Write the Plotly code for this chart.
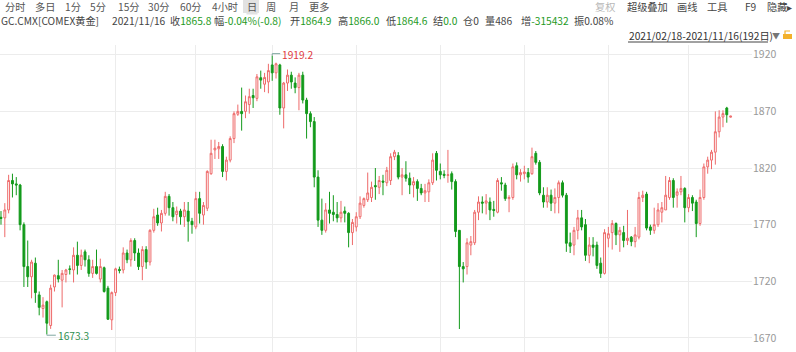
import plotly.graph_objects as go

# ---- data: COMEX gold daily candles, 2021/02/18 - 2021/11/16 (192 trading days) ----
opens = [1776.5,1776,1783,1809,1806,1805,1770,1733,1724,1736,
         1708,1696,1702,1681,1715,1725,1721,1726,1731,1730,
         1743,1734,1746,1739,1727,1733,1722,1732,1714,1686,
         1710,1730.5,1730,1745,1739,1756,1745,1733,1748,1737,
         1765,1778.5,1771.5,1780,1795,1785,1779,1782,1777,1782,
         1773,1768,1793,1778.5,1784.5,1815,1836,1837,1839,1817,
         1827,1846,1867.5,1870,1870,1876,1884,1881.5,1899.7,1894,
         1896,1911,1904,1911,1873,1895,1902,1895,1891,1902,
         1880,1868,1861,1812,1774,1765,1783,1781,1779,1776,
         1782,1780,1763,1768,1777,1787,1792,1794,1804.5,1803,
         1808.5,1807,1809,1830,1831,1812,1814,1811,1805,1808,
         1802,1798,1799,1807,1833,1817,1814.5,1813.5,1815,1808,
         1765,1733,1733,1752,1754,1781,1790,1789,1790,1783.5,
         1781,1807,1805,1793,1794,1822,1814,1815,1816,1815,
         1833,1825,1796,1790,1796,1789,1794,1807,1796,1754,
         1752,1765,1776,1770,1743,1752,1752,1736,1727,1758,
         1763,1771,1761,1763,1756,1759,1755,1759,1794,1797,
         1768,1765,1770,1781,1783,1794,1809,1796,1799,1802,
         1785,1794,1790,1771,1794,1821,1827,1834,1852,1865,
         1873,1864.9]
highs = [1782,1789,1814,1815,1812,1806,1772,1756,1739,1741,
         1711,1706,1703,1717,1726,1739,1730,1731,1734,1750,
         1755,1748,1748,1743,1739,1748,1740,1733,1716,1711,
         1732,1733,1750,1748,1758,1758,1749,1751,1751,1766,
         1784,1785,1783,1799,1797,1790,1786,1784,1790,1790,
         1776,1799,1799,1790,1818,1845,1845,1843,1841,1830,
         1848,1870,1876,1891,1884,1890,1890,1903,1906,1904,
         1912,1919.2,1913,1912,1896,1907,1905,1900,1904,1905,
         1882,1870,1865,1818,1793,1789,1799,1796,1790,1791,
         1786,1781,1775,1781,1795,1794,1816,1808,1820,1813,
         1814,1821,1833,1836,1834,1820,1826,1816,1812,1810,
         1806,1806,1810,1833,1835,1824,1818,1836,1817,1810,
         1762,1737,1758,1760,1783,1795,1795,1797,1794,1791,
         1811,1812,1807,1796,1824,1825,1819,1822,1820,1838,
         1835,1827,1803,1803,1801,1802,1809,1809,1798,1763,
         1768,1783,1783,1775,1759,1759,1755,1741,1766,1768,
         1774,1772,1768,1769,1783,1760,1768,1799,1800,1799,
         1770,1785,1789,1790,1813,1812,1811,1802,1813,1803,
         1797,1796,1792,1801,1824,1830,1836,1870,1871,1871,
         1874,1866.0]
lows = [1770,1759,1780,1794,1796,1765,1715,1715,1705,1701,
        1690,1688,1673.3,1678,1711,1719,1697,1719,1726,1719,
        1726,1730,1733,1724,1723,1726,1719,1710,1686,1677,
        1707,1727,1727,1736,1733,1738,1730,1721,1731,1734,
        1763,1769,1764,1778,1778,1773,1771,1770,1768,1755,
        1762,1766,1771,1770,1782,1814,1828,1828,1812,1809,
        1825,1842,1866,1853,1864,1868,1873,1879,1890,1887,
        1886,1897,1899,1867,1855,1888,1890,1886,1871,1877,
        1846,1856,1803,1768,1761,1763,1771,1773,1772,1772,
        1772,1750,1752,1764,1775,1785,1790,1790,1792,1797,
        1796,1804,1805,1827,1810,1796,1808,1797,1794,1791,
        1796,1790,1790,1805,1809,1810,1811,1807,1801,1759,
        1677.9,1719,1726,1743,1752,1774,1780,1779,1774,1777,
        1780,1800,1791,1781,1792,1810,1808,1810,1807,1814,
        1823,1796,1785,1785,1782,1780,1780,1794,1746,1745,
        1743,1757,1765,1738,1736,1742,1731,1723,1726,1750,
        1748,1752,1746,1750,1752,1751,1750,1757,1790,1765,
        1761,1762,1768,1772,1783,1792,1785,1785,1796,1772,
        1781,1782,1759,1769,1792,1815,1819,1823,1847,1856,
        1860,1864.6]
closes = [1775.5,1783,1809,1806,1805,1770,1733,1724,1737,1710,
          1697,1699,1683,1714,1725.5,1722,1727,1730,1730.5,1743,
          1734,1743,1739,1727,1733,1727,1733,1711,1686.5,1710,
          1731,1729.5,1745,1739,1756,1745,1733,1748,1737,1765,
          1777,1771.5,1780,1795,1785,1777,1782,1777,1783,1773,
          1770,1793,1780,1787,1817,1833,1837.5,1839,1817,1827,
          1846,1868,1870,1868,1878.5,1883,1882,1900.5,1897.6,1900,
          1906,1904,1912,1873,1895,1902,1896,1891,1902,1880,
          1868,1861,1812,1774,1765,1783,1780,1779,1776,1781,
          1780,1763,1772,1777,1789,1793,1798,1803,1803.5,1809,
          1807.5,1818,1830,1834,1812,1814,1811,1805,1808,1802,
          1798,1800,1807,1827,1818,1814,1813.5,1814,1808,1764,
          1733,1731,1754,1755,1781,1790,1789,1791,1783,1782.5,
          1809,1806,1793,1794,1821,1814,1816,1816.5,1812,1830,
          1825,1798,1790,1796,1789,1794,1807,1796,1753.6,1751,
          1765,1776,1768,1743,1752,1750,1734,1727,1763,1762,
          1771,1761,1765,1756,1758,1755,1761,1794,1796,1767,
          1765,1770,1783,1785,1796,1809,1794,1799,1802,1785,
          1794,1789,1771,1794,1821,1827,1834,1852,1865,1868,
          1867,1865.8]
day_index = list(range(len(opens)))
month_start_index = [30, 51, 71, 93, 115, 137, 159, 180]   # Apr..Nov first trading day
price_ticks = [1670, 1720, 1770, 1820, 1870, 1920]

RED = "#ee6a6a"
GREEN = "#139a1b"

fig = go.Figure(go.Candlestick(
    x=day_index, open=opens, high=highs, low=lows, close=closes,
    increasing=dict(line=dict(color=RED, width=1), fillcolor="#ffffff"),
    decreasing=dict(line=dict(color=GREEN, width=1), fillcolor=GREEN),
    whiskerwidth=0, hoverinfo="skip", showlegend=False))

W, H = 796, 352
ML, MR, MT, MB = 0, 44, 45, 0
PW, PH = W - ML - MR, H - MT - MB

def px(x):
    return (x - ML) / PW

def py(y):
    return (H - MB - y) / PH

FONT = "Noto Sans CJK SC, Microsoft YaHei, sans-serif"
FS = 10.2
ann = []

def text(x, y, s, color="#444", size=FS, anchor="left", bg=None):
    d = dict(xref="paper", yref="paper", x=px(x), y=py(y), text=s,
             showarrow=False, xanchor=anchor, yanchor="middle",
             borderpad=0, captureevents=False,
             font=dict(family=FONT, size=size, color=color))
    if bg:
        d["bgcolor"] = bg
    ann.append(d)

# row 1: period tabs and tools
tabs = [(4, "分时"), (34, "多日"), (64, "1分"), (89, "5分"), (117, "15分"),
        (147, "30分"), (179, "60分"), (211, "4小时"), (246, "日"), (265, "周"),
        (288, "月"), (308, "更多")]
tools = [(594, "复权", "#b8b8b8"), (626, "超级叠加", "#444"), (676, "画线", "#444"),
         (706, "工具", "#444"), (744, "F9", "#444"), (766, "隐藏▸", "#444")]
for xx, s in tabs:
    text(xx, 7, s, "#555", bg="#ffffff" if s != "日" else "#e2e2e2")
for xx, s, c in tools:
    text(xx, 7, s, c)

# row 2: quote line
G = "#1e9a1e"
D = "#444"
def kv(x, k, v, vc):
    text(x, 21, f"<span style='color:{D}'>{k}</span><span style='color:{vc}'>{v}</span>")

text(0, 21, "GC.CMX[COMEX黄金]", D)
text(111, 21, "2021/11/16", D)
kv(169, "收", "1865.8", G)
kv(213, "幅", "-0.04%(-0.8)", G)
kv(289, "开", "1864.9", G)
kv(337, "高", "1866.0", G)
kv(385, "低", "1864.6", G)
kv(432, "结", "0.0", G)
kv(462, "仓", "0", D)
kv(484, "量", "486", D)
kv(520, "增", "-315432", G)
kv(573, "振", "0.08%", D)

# row 3: date range
text(628, 35, "2021/02/18-2021/11/16(192日)", "#333")
text(771, 35, "▼", "#777", size=8)

# max / min markers
imax = max(day_index, key=lambda i: highs[i])
imin = min(day_index, key=lambda i: lows[i])
ann.append(dict(x=imax, y=highs[imax], xref="x", yref="y", text=f"{highs[imax]:.1f}",
                showarrow=False, xanchor="left", yanchor="middle", xshift=9, yshift=1,
                borderpad=0, font=dict(family=FONT, size=FS, color="#e0393e")))
ann.append(dict(x=imin, y=lows[imin], xref="x", yref="y", text=f"{lows[imin]:.1f}",
                showarrow=False, xanchor="left", yanchor="middle", xshift=10, yshift=-1,
                borderpad=0, font=dict(family=FONT, size=FS, color="#2f8f4f")))

shapes = [
    # highlighted tab
    dict(type="rect", xref="paper", yref="paper", x0=px(243), x1=px(259), y0=py(13), y1=py(0),
         fillcolor="#e2e2e2", line=dict(width=0), layer="below"),
    # underline of date range
    dict(type="line", xref="paper", yref="paper", x0=px(628), x1=px(768), y0=py(42), y1=py(42),
         line=dict(color="#444", width=1)),
    # lock icon
    dict(type="rect", xref="paper", yref="paper", x0=px(783), x1=px(792), y0=py(39), y1=py(34),
         fillcolor="#f3b12b", line=dict(width=0)),
    dict(type="path", xref="paper", yref="paper",
         path=f"M {px(785)},{py(34)} L {px(785)},{py(31)} L {px(790)},{py(31)}",
         line=dict(color="#f3b12b", width=1.2)),
    # leader lines
    dict(type="path", xref="x", yref="y", xsizemode="pixel", ysizemode="pixel",
         xanchor=imax, yanchor=highs[imax], path="M 0,0 L 0,2 L 8,2",
         line=dict(color="#7fa7a0", width=1)),
    dict(type="path", xref="x", yref="y", xsizemode="pixel", ysizemode="pixel",
         xanchor=imin, yanchor=lows[imin], path="M 0,0 L 0,-1 L 9,-1",
         line=dict(color="#7fa7a0", width=1)),
]

fig.update_layout(
    width=W, height=H, margin=dict(l=ML, r=MR, t=MT, b=MB),
    paper_bgcolor="#ffffff", plot_bgcolor="#ffffff",
    showlegend=False, annotations=ann, shapes=shapes,
    xaxis=dict(range=[-0.26, 196.6], tickvals=month_start_index, showticklabels=False,
               showgrid=True, gridcolor="#ececec", gridwidth=1, zeroline=False,
               ticks="", rangeslider=dict(visible=False), showline=False),
    yaxis=dict(side="right", range=[1657.6, 1928.6], tickvals=price_ticks,
               showgrid=True, gridcolor="#ececec", gridwidth=1, zeroline=False,
               ticks="", tickfont=dict(family=FONT, size=10.5, color="#999"),
               showline=False),
)

fig.write_html("out.html", config={"displayModeBar": False})
